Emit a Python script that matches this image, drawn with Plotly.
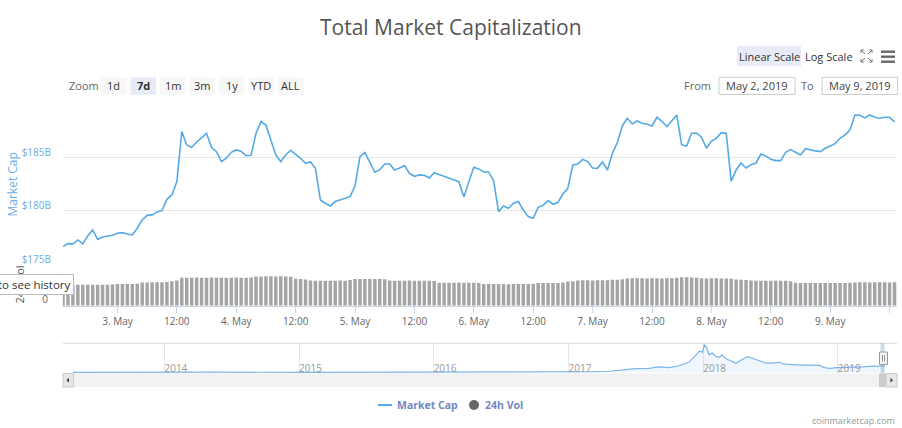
import pandas as pd
import plotly.graph_objects as go

W, H = 902, 428

# market cap, hourly from 2019-05-02 13:00 to 2019-05-09 13:00, in $B
mcap = [
    176.66, 176.94, 176.92, 177.28, 176.91, 177.66, 178.22, 177.34, 177.56, 177.63,
    177.72, 177.91, 177.97, 177.84, 177.75, 178.38, 179.16, 179.59, 179.63, 179.91,
    180.03, 181.09, 181.50, 182.75, 187.44, 186.19, 185.97, 186.47, 186.91, 187.28,
    185.97, 185.56, 184.63, 184.94, 185.50, 185.72, 185.59, 185.19, 185.22, 187.28,
    188.38, 188.06, 186.66, 185.25, 184.63, 185.25, 185.69, 185.34, 184.94, 184.47,
    184.59, 184.00, 181.03, 180.72, 180.47, 180.88, 181.03, 181.19, 181.34,
    182.34, 185.09, 185.47, 184.56, 183.63, 183.88, 184.41, 184.41, 183.84, 184.03,
    184.25, 183.53, 183.25, 183.38, 183.34, 183.09, 183.59, 183.41, 183.25, 183.13,
    182.91, 182.72, 181.30, 182.75, 184.09, 183.94, 183.66, 183.66, 182.84, 179.94,
    180.47, 180.25, 180.72, 180.88, 180.09, 179.47, 179.31, 180.34, 180.53, 180.97,
    180.63, 180.81, 181.59, 182.13, 184.31, 184.41, 184.84, 184.63, 184.03, 184.00,
    184.59, 183.84, 185.41,
    186.41, 187.97, 188.69, 188.16, 188.44, 188.22, 188.13, 187.97, 188.78, 188.41,
    187.91, 188.41, 189.00, 186.19, 186.09, 187.28, 187.31, 186.91, 185.88, 186.56,
    186.81, 187.34, 187.28, 182.80, 183.84, 184.50, 184.03, 184.34, 184.50, 185.34,
    185.16, 184.84, 184.72, 184.72, 185.50, 185.75, 185.47, 185.25, 185.84, 185.72,
    185.63, 185.56, 185.88, 186.09, 186.31, 186.81, 187.13, 187.59, 189.00, 188.97,
    188.72, 189.00, 188.78, 188.69, 188.78, 188.78, 188.34,
]

# 24h volume, same hours, in $B
vol24 = [
    44.0, 44.2, 44.0,
    45.8, 46.2, 46.0, 46.3, 46.1, 46.2, 45.9, 46.4,
    47.5, 47.7, 47.9, 47.6, 48.0,
    50.8, 51.2, 51.3, 51.5, 51.4, 52.0,
    53.8, 55.5,
    61.2, 61.5, 61.6, 61.8, 61.4, 61.6, 61.9, 61.5, 61.7, 61.3, 61.6, 61.8, 61.5, 61.7, 62.0,
    64.0, 64.3, 64.5, 64.6, 64.4, 64.5, 64.2, 63.8,
    59.5, 58.7, 57.5,
    55.2, 55.0, 54.8, 55.1, 55.0, 54.9, 55.2, 55.0, 56.5,
    58.5, 58.8, 58.7, 58.9, 58.6, 58.7, 58.2,
    55.3, 55.1, 55.0, 54.9, 55.2, 55.0, 55.1, 54.8, 55.0, 54.2,
    50.3, 50.5, 50.6, 50.4, 50.8, 50.6, 50.5, 50.7, 49.8,
    47.9, 47.6, 47.5, 47.7, 47.8, 47.4, 47.6, 47.8, 47.5, 47.7, 48.5,
    49.8, 50.0, 49.9, 50.1, 49.8, 51.0,
    53.2, 53.8,
    55.5, 55.7, 55.8, 55.6, 55.9, 55.7, 56.2,
    57.0, 57.3, 58.0,
    60.0, 60.2, 60.1, 60.3, 60.0, 60.1, 60.2, 60.0, 60.3, 60.1, 61.2,
    62.4, 62.3, 62.2, 61.5,
    60.2, 60.0, 60.1, 60.3, 60.0, 59.8, 59.2,
    57.5, 57.2, 56.5,
    55.2, 55.0, 54.9, 55.1, 55.0, 54.8, 55.1, 54.9, 53.5,
    50.2, 49.9, 50.0, 49.8, 50.1, 49.9, 50.0, 49.7, 50.1, 49.9, 50.0, 50.6,
    51.2, 51.4, 51.3, 51.2, 51.5, 51.3, 51.4, 51.2, 51.3,
]

hours = pd.date_range("2019-05-02 13:00", periods=len(mcap), freq="h")

# navigator: full history of total market cap, $B
nav_dates = [
    "2013-04-28", "2013-11-30", "2014-06-01", "2015-01-15", "2016-01-01", "2016-06-15",
    "2017-01-01", "2017-03-07", "2017-04-23", "2017-05-27", "2017-07-01", "2017-08-07",
    "2017-09-02", "2017-10-01", "2017-10-27", "2017-11-24", "2017-12-13", "2017-12-22",
    "2017-12-30", "2018-01-04", "2018-01-10", "2018-01-17", "2018-01-26", "2018-02-05",
    "2018-02-14", "2018-02-21", "2018-03-03", "2018-03-21", "2018-03-31", "2018-04-13",
    "2018-05-01", "2018-05-16", "2018-06-03", "2018-06-21", "2018-07-09", "2018-07-27",
    "2018-08-05", "2018-09-01", "2018-09-19", "2018-10-16", "2018-11-12", "2018-11-26",
    "2018-12-10", "2019-01-01", "2019-02-02", "2019-03-09", "2019-04-05", "2019-05-02",
    "2019-05-09",
]
nav_vals = [
    1.6, 14, 9, 4, 7, 12, 18, 25, 38, 82, 114, 125, 169, 147, 202, 311, 529, 638,
    605, 834, 747, 529, 583, 474, 452, 529, 420, 343, 278, 365, 474, 420, 343, 278,
    278, 311, 256, 234, 223, 223, 213, 147, 125, 147, 147, 169, 191, 202, 188,
]

x_tickvals = ["2019-05-03 00:00", "2019-05-03 12:00", "2019-05-04 00:00", "2019-05-04 12:00",
              "2019-05-05 00:00", "2019-05-05 12:00", "2019-05-06 00:00", "2019-05-06 12:00",
              "2019-05-07 00:00", "2019-05-07 12:00", "2019-05-08 00:00", "2019-05-08 12:00",
              "2019-05-09 00:00", "2019-05-09 12:00"]
x_ticktext = ["3. May", "12:00", "4. May", "12:00", "5. May", "12:00", "6. May", "12:00",
              "7. May", "12:00", "8. May", "12:00", "9. May", "12:00"]
y_tickvals = [175, 180, 185, 190]
y_ticktext = ["$175B", "$180B", "$185B", ""]
year_ticks = ["2014-01-01", "2015-01-01", "2016-01-01", "2017-01-01", "2018-01-01", "2019-01-01"]
year_text = ["2014", "2015", "2016", "2017", "2018", "2019"]

zoom_buttons = ["1d", "7d", "1m", "3m", "1y", "YTD", "ALL"]

LINE = "#55a9e4"
FONT = "Open Sans"


def px(x):
    return x / W


def py(y):
    return 1 - y / H


def label(text, x, y, size=11, color="#333333", xanchor="center", **kw):
    # text placed in pixel coords of the 902x428 picture
    return dict(text=text, x=px(x), y=py(y), xref="paper", yref="paper",
                xanchor=xanchor, yanchor="middle", showarrow=False,
                font=dict(size=size, color=color, family=FONT, weight=kw.pop("weight", "normal")),
                **kw)


def rect(x0, y0, x1, y1, fill, line=None, layer="above"):
    return dict(type="rect", xref="paper", yref="paper", x0=px(x0), x1=px(x1),
                y0=py(y1), y1=py(y0), fillcolor=fill,
                line=line if line else dict(width=0), layer=layer)


fig = go.Figure()

fig.add_trace(go.Scatter(x=hours, y=mcap, mode="lines", name="Market Cap",
                         line=dict(color=LINE, width=1.6), xaxis="x", yaxis="y"))
fig.add_trace(go.Bar(x=hours, y=vol24, name="24h Vol",
                     marker=dict(color="#a4a4a4", line=dict(width=0)), xaxis="x", yaxis="y2"))
fig.add_trace(go.Scatter(x=nav_dates, y=nav_vals, mode="lines", name="Navigator",
                         line=dict(color="#7cb5ec", width=1.2), fill="tozeroy",
                         fillcolor="rgba(124,181,236,0.12)", xaxis="x3", yaxis="y3"))

fig.update_layout(
    width=W, height=H,
    margin=dict(l=0, r=0, t=0, b=0),
    paper_bgcolor="white", plot_bgcolor="white",
    font=dict(family=FONT, color="#666666", size=10),
    bargap=0.3,
    showlegend=False,
    xaxis=dict(domain=[px(63), px(897)], anchor="y2",
               range=["2019-05-02 13:00", "2019-05-09 13:30"],
               tickvals=x_tickvals, ticktext=x_ticktext, showgrid=False,
               showline=True, linecolor="#ccd6eb", ticks="outside", ticklen=6,
               tickcolor="#ccd6eb", tickfont=dict(size=10, color="#666666"),
               zeroline=False),
    yaxis=dict(domain=[py(264.3), py(104.3)], anchor="x", range=[175, 190],
               tickvals=y_tickvals, ticktext=y_ticktext, showgrid=True,
               gridcolor="#e6e6e6", zeroline=False,
               ticks="outside", ticklen=9, tickcolor="rgba(0,0,0,0)",
               tickfont=dict(size=10, color="#6aaee6"), ticklabelshift=-5),
    yaxis2=dict(domain=[py(305.7), py(270)], anchor="x", range=[0, 78.5],
                tickvals=[0], ticktext=["0"], showgrid=False, zeroline=False,
                showline=True, linecolor="#eeeeee",
                ticks="outside", ticklen=12, tickcolor="rgba(0,0,0,0)",
                tickfont=dict(size=10, color="#666666"), ticklabelshift=-6),
    # navigator axis sits a little below the series base so the year labels
    # land near the bottom of the strip, as in the original
    xaxis3=dict(domain=[px(73), px(885)], anchor="y3",
                range=["2013-04-28", "2019-05-09"],
                tickvals=year_ticks, ticktext=year_text, showgrid=True,
                gridcolor="#e6e6e6", ticklabelposition="inside right", ticks="",
                tickfont=dict(size=10, color="#999999"), zeroline=False),
    yaxis3=dict(domain=[py(380), py(343)], anchor="x3", range=[-224, 882],
                showgrid=False, showticklabels=False, zeroline=False),
)

shapes = []
ann = []

# title
ann.append(label("Total Market Capitalization", 451, 27, size=21, color="#555555"))

# axis titles
ann.append(label("Market Cap", 12.5, 185, size=12, color="#6aaee6", textangle=-90))
ann.append(label("24h Vol", 19, 284.5, size=11, color="#555555", textangle=-90))

# zoom buttons
ann.append(label("Zoom", 84, 86, color="#666666"))
for i, lab in enumerate(zoom_buttons):
    x0 = 101 + i * 29.5
    fill = "#e6ebf5" if lab == "7d" else "#f7f7f7"
    shapes.append(rect(x0, 77.3, x0 + 25.5, 94.7, fill, layer="below"))
    ann.append(label(lab, x0 + 12.75, 86, weight="bold" if lab == "7d" else "normal"))

# scale buttons
shapes.append(rect(737, 46, 801, 66, "#e6ebf5", layer="below"))
ann.append(label("Linear Scale", 769, 56))
ann.append(label("Log Scale", 829, 56))

# fullscreen icon
for (cx, cy, dx, dy) in [(861, 50, 1, 1), (872, 50, -1, 1), (861, 62, 1, -1), (872, 62, -1, -1)]:
    shapes.append(dict(type="path", xref="paper", yref="paper",
                       path="M %f,%f L %f,%f M %f,%f L %f,%f L %f,%f" % (
                           px(cx), py(cy), px(cx + 4 * dx), py(cy + 4 * dy),
                           px(cx), py(cy + 3 * dy), px(cx), py(cy), px(cx + 3 * dx), py(cy)),
                       line=dict(color="#777777", width=1)))
# menu icon
for yy in (50.5, 55.5, 60.5):
    shapes.append(rect(881, yy, 895, yy + 2.4, "#666666"))

# date range inputs
ann.append(label("From", 713, 85, color="#666666", xanchor="right"))
ann.append(label("To", 816, 85, color="#666666", xanchor="right"))
for (x0, x1, txt) in [(719, 795, "May 2, 2019"), (822, 897.5, "May 9, 2019")]:
    shapes.append(rect(x0, 77.3, x1, 94.5, "white", line=dict(color="#cccccc", width=1)))
    ann.append(label(txt, (x0 + x1) / 2, 85.5, color="#444444"))

# navigator frame and scrollbar
shapes.append(dict(type="line", xref="paper", yref="paper", x0=px(63), x1=px(897),
                   y0=py(343.3), y1=py(343.3), line=dict(color="#dddddd", width=1)))
shapes.append(rect(63, 373.5, 897, 387, "#f2f2f2"))
shapes.append(rect(63, 373.5, 73.5, 387, "#e6e6e6", line=dict(color="#cccccc", width=1)))
shapes.append(rect(879, 373.5, 886, 387, "#cccccc"))
shapes.append(rect(886, 373.5, 897, 387, "#e6e6e6", line=dict(color="#cccccc", width=1)))
shapes.append(dict(type="path", xref="paper", yref="paper",
                   path="M %f,%f L %f,%f L %f,%f Z" % (px(66.5), py(380.2), px(69), py(378), px(69), py(382.4)),
                   fillcolor="#333333", line=dict(width=0)))
shapes.append(dict(type="path", xref="paper", yref="paper",
                   path="M %f,%f L %f,%f L %f,%f Z" % (px(893), py(380.2), px(890.5), py(378), px(890.5), py(382.4)),
                   fillcolor="#333333", line=dict(width=0)))
# selected range mask and handle
shapes.append(rect(880.5, 343.3, 884.5, 373, "rgba(102,133,194,0.3)"))
shapes.append(rect(879.5, 352, 887.5, 364.5, "#f2f2f2", line=dict(color="#999999", width=1)))
for xx in (882.5, 884.5):
    shapes.append(dict(type="line", xref="paper", yref="paper", x0=px(xx), x1=px(xx),
                       y0=py(361.5), y1=py(355), line=dict(color="#999999", width=1)))

# legend (drawn by hand to match the compact original)
shapes.append(dict(type="line", xref="paper", yref="paper", x0=px(378), x1=px(392),
                   y0=py(405), y1=py(405), line=dict(color=LINE, width=2)))
ann.append(label("Market Cap", 395, 405, size=10.5, color="#7088bf", xanchor="left", weight="bold"))
shapes.append(dict(type="circle", xref="paper", yref="paper", x0=px(469), x1=px(479),
                   y0=py(410), y1=py(400), fillcolor="#666666", line=dict(width=0)))
ann.append(label("24h Vol", 483, 405, size=10.5, color="#7088bf", xanchor="left", weight="bold"))

# drag hint box (cut off at the left edge in the original)
ann.append(label("to see history", 74, 284, size=11.5, xanchor="right", bgcolor="white",
                 bordercolor="#bbbbbb", borderwidth=1, borderpad=2))

# credit
ann.append(label("coinmarketcap.com", 897, 420, size=9, color="#999999", xanchor="right"))

fig.update_layout(shapes=shapes, annotations=ann)

# page body has a default 8px margin; drop it so the figure sits at the window corner
fig.write_html("out.html", config={"displayModeBar": False},
               post_script="document.body.style.margin = '0px';")
